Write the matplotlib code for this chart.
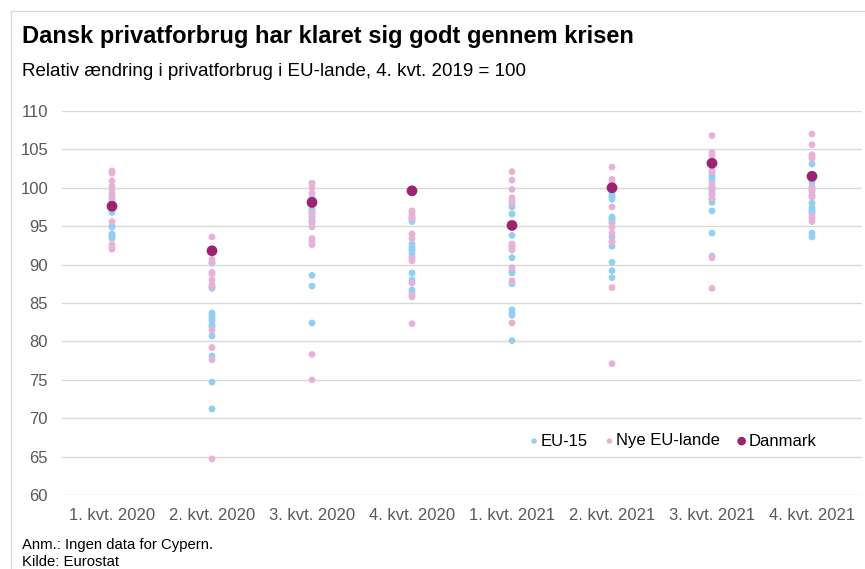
import matplotlib
matplotlib.use("Agg")
import matplotlib.pyplot as plt
from matplotlib.patches import Rectangle

categories = ["1. kvt. 2020", "2. kvt. 2020", "3. kvt. 2020", "4. kvt. 2020",
              "1. kvt. 2021", "2. kvt. 2021", "3. kvt. 2021", "4. kvt. 2021"]

eu15 = [
    [98.2, 97.9, 97.4, 97.2, 97.0, 95.0, 94.9, 94.0, 93.8, 93.6, 93.4, 98.5, 96.8],
    [90.2, 87.1, 83.7, 83.4, 83.0, 82.7, 81.9, 80.7, 78.1, 74.7, 71.2, 86.9, 82.2],
    [98.4, 97.9, 97.6, 97.2, 96.9, 96.3, 95.8, 95.5, 88.6, 87.2, 82.4, 97.0, 98.7],
    [95.9, 95.6, 92.7, 92.0, 91.8, 91.4, 91.0, 88.9, 88.0, 86.7, 86.3, 96.2, 92.3],
    [97.8, 96.6, 93.8, 92.6, 90.9, 89.1, 88.9, 87.5, 84.1, 83.7, 83.4, 80.1, 97.5],
    [99.3, 98.8, 98.5, 96.2, 95.8, 95.5, 93.6, 92.4, 90.3, 89.2, 88.3, 99.0, 96.0],
    [101.7, 101.4, 100.2, 100.0, 99.5, 99.2, 98.5, 98.1, 97.0, 94.1, 91.1, 101.0, 99.8],
    [103.1, 100.7, 100.2, 98.9, 98.0, 97.1, 96.9, 96.7, 94.1, 93.6, 99.5, 101.0, 97.4],
]

nye = [
    [102.2, 101.9, 100.9, 100.2, 99.8, 99.3, 98.9, 98.5, 95.6, 92.6, 92.2, 92.0],
    [93.6, 90.7, 90.3, 89.0, 88.8, 88.0, 87.4, 87.1, 81.5, 79.2, 77.6, 64.7],
    [100.6, 100.0, 99.3, 96.8, 96.6, 95.7, 94.9, 93.4, 93.0, 92.6, 78.3, 75.0],
    [97.0, 96.7, 96.3, 96.0, 94.0, 93.4, 90.8, 90.5, 87.6, 86.0, 85.8, 82.3],
    [102.1, 101.0, 99.8, 98.7, 98.3, 92.7, 91.9, 89.6, 87.9, 82.4, 98.0, 92.3],
    [102.7, 101.1, 100.7, 97.5, 94.9, 94.1, 92.9, 87.0, 77.1, 100.3, 95.3, 93.0],
    [106.8, 104.6, 104.2, 102.3, 102.0, 99.9, 99.1, 98.6, 90.9, 86.9, 103.5, 100.5],
    [107.0, 105.6, 104.3, 103.8, 99.7, 98.8, 96.0, 95.6, 104.0, 100.0, 96.3, 99.0],
]

danmark = [97.6, 91.8, 98.1, 99.6, 95.1, 100.0, 103.2, 101.5]

yticks = [60, 65, 70, 75, 80, 85, 90, 95, 100, 105, 110]

plt.rcParams['font.family'] = ['Liberation Sans', 'DejaVu Sans']

W, H = 865, 569
fig = plt.figure(figsize=(W / 100, H / 100), dpi=100)

# outer border
fig.patches.append(Rectangle((11 / W, -0.1), 1.2, (H - 11) / H + 0.1, transform=fig.transFigure,
                             fill=False, edgecolor='#d9d9d9', linewidth=1.0))

ax = fig.add_axes([62 / W, 1 - 495 / H, 800 / W, 384 / H])

c_blue = '#93cff0'
c_pink = '#e8b2d6'
c_dk = '#9b2372'

for i in range(len(categories)):
    ax.scatter([i] * len(eu15[i]), eu15[i], s=24, color=c_blue, edgecolors='none', zorder=3,
               label='EU-15' if i == 0 else None)
for i in range(len(categories)):
    ax.scatter([i] * len(nye[i]), nye[i], s=24, color=c_pink, edgecolors='none', zorder=3,
               label='Nye EU-lande' if i == 0 else None)
ax.scatter(range(len(categories)), danmark, s=60, color=c_dk, edgecolors='none', zorder=4,
           label='Danmark')

ax.set_xlim(-0.5, len(categories) - 0.5)
ax.set_ylim(60, 110)
ax.set_yticks(yticks)
ax.set_xticks(range(len(categories)))
ax.set_xticklabels(categories)
ax.grid(axis='y', color='#d9d9d9', linewidth=1.0)
ax.set_axisbelow(True)
for s in ax.spines.values():
    s.set_visible(False)
ax.tick_params(axis='both', length=0, labelsize=12, colors='#595959')
ax.tick_params(axis='y', pad=10)
ax.tick_params(axis='x', pad=9)

leg = ax.legend(loc='center left', bbox_to_anchor=(467 / 800, (495 - 441) / 384), ncol=3,
                frameon=False, fontsize=12, handletextpad=0.1, handlelength=0.6,
                columnspacing=1.0, markerscale=0.8, borderaxespad=0, borderpad=0)
for t in leg.get_texts():
    t.set_color('#000000')

fig.text(22 / W, 1 - 37 / H, "Dansk privatforbrug har klaret sig godt gennem krisen",
         fontsize=17, fontweight='bold', va='center', ha='left')
fig.text(22 / W, 1 - 71 / H, "Relativ ændring i privatforbrug i EU-lande, 4. kvt. 2019 = 100",
         fontsize=13.5, va='center', ha='left')
fig.text(22 / W, 1 - 545 / H, "Anm.: Ingen data for Cypern.", fontsize=10.7, va='center', ha='left')
fig.text(22 / W, 1 - 562 / H, "Kilde: Eurostat", fontsize=10.7, va='center', ha='left')

fig.savefig("out.png", dpi=100)
